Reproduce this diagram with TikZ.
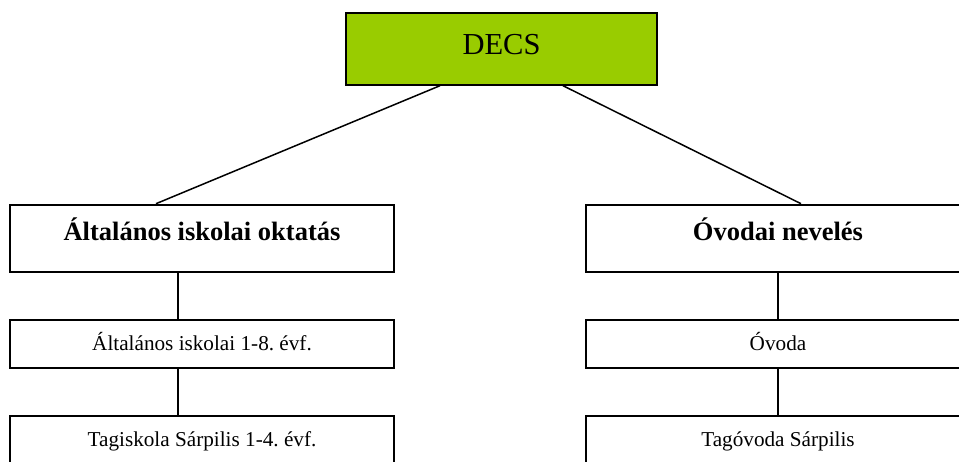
\documentclass[tikz,border=0pt]{standalone}
\usepackage{fontspec}
\setmainfont{Liberation Serif}
\definecolor{decsgreen}{HTML}{99CC00}
\frenchspacing
\begin{document}
\begin{tikzpicture}[x=1pt,y=-1pt,
  box/.style={draw=black, line width=2pt, rectangle, inner sep=0pt, fill=white},
  link/.style={draw=black, line width=1.5pt},
  lbl/.style={anchor=base, inner sep=0pt},
  bigtxt/.style={lbl, font=\fontsize{26.5}{30}\selectfont\bfseries},
  smalltxt/.style={lbl, font=\fontsize{21.2}{24}\selectfont},
  decstxt/.style={lbl, font=\fontsize{30.5}{34}\selectfont}]
\useasboundingbox (0,0) rectangle (959,461);
\clip (0,0) rectangle (959,461);
\fill[white] (0,0) rectangle (959,461);

% boxes
\node[box, fill=decsgreen, minimum width=311pt, minimum height=72pt] (decs) at (501.5,48.7) {};
\node[box, minimum width=384pt, minimum height=67.6pt] (gen) at (202,238.5) {};
\node[box, minimum width=385pt, minimum height=67.6pt] (ovi) at (778,238.5) {};
\node[box, minimum width=384pt, minimum height=48pt] (gen1) at (202,344.3) {};
\node[box, minimum width=385pt, minimum height=48pt] (ovi1) at (778,344.3) {};
\node[box, minimum width=384pt, minimum height=48pt] (gen2) at (202,440.3) {};
\node[box, minimum width=385pt, minimum height=48pt] (ovi2) at (778,440.3) {};

% texts
\node[decstxt] (tdecs) at (501.5,54.3) {DECS};
\node[bigtxt] (tgen) at (202,240.7) {Általános iskolai oktatás};
\node[bigtxt] (tovi) at (778,240.7) {Óvodai nevelés};
\node[smalltxt] (tgen1) at (202,350) {Általános iskolai 1-8. évf.};
\node[smalltxt] (tovi1) at (778,350) {Óvoda};
\node[smalltxt] (tgen2) at (202,446) {Tagiskola Sárpilis 1-4. évf.};
\node[smalltxt] (tovi2) at (778,446) {Tagóvoda Sárpilis};

% connectors
\draw[link] ([xshift=-61.5pt]decs.south) -- ([xshift=-46pt]gen.north);
\draw[link] ([xshift=61.5pt]decs.south) -- ([xshift=23pt]ovi.north);
\draw[link] ([xshift=-24pt]gen.south) -- ([xshift=-24pt]gen1.north);
\draw[link] ([xshift=-24pt]gen1.south) -- ([xshift=-24pt]gen2.north);
\draw[link] (ovi.south) -- (ovi1.north);
\draw[link] (ovi1.south) -- (ovi2.north);
\end{tikzpicture}
\end{document}
